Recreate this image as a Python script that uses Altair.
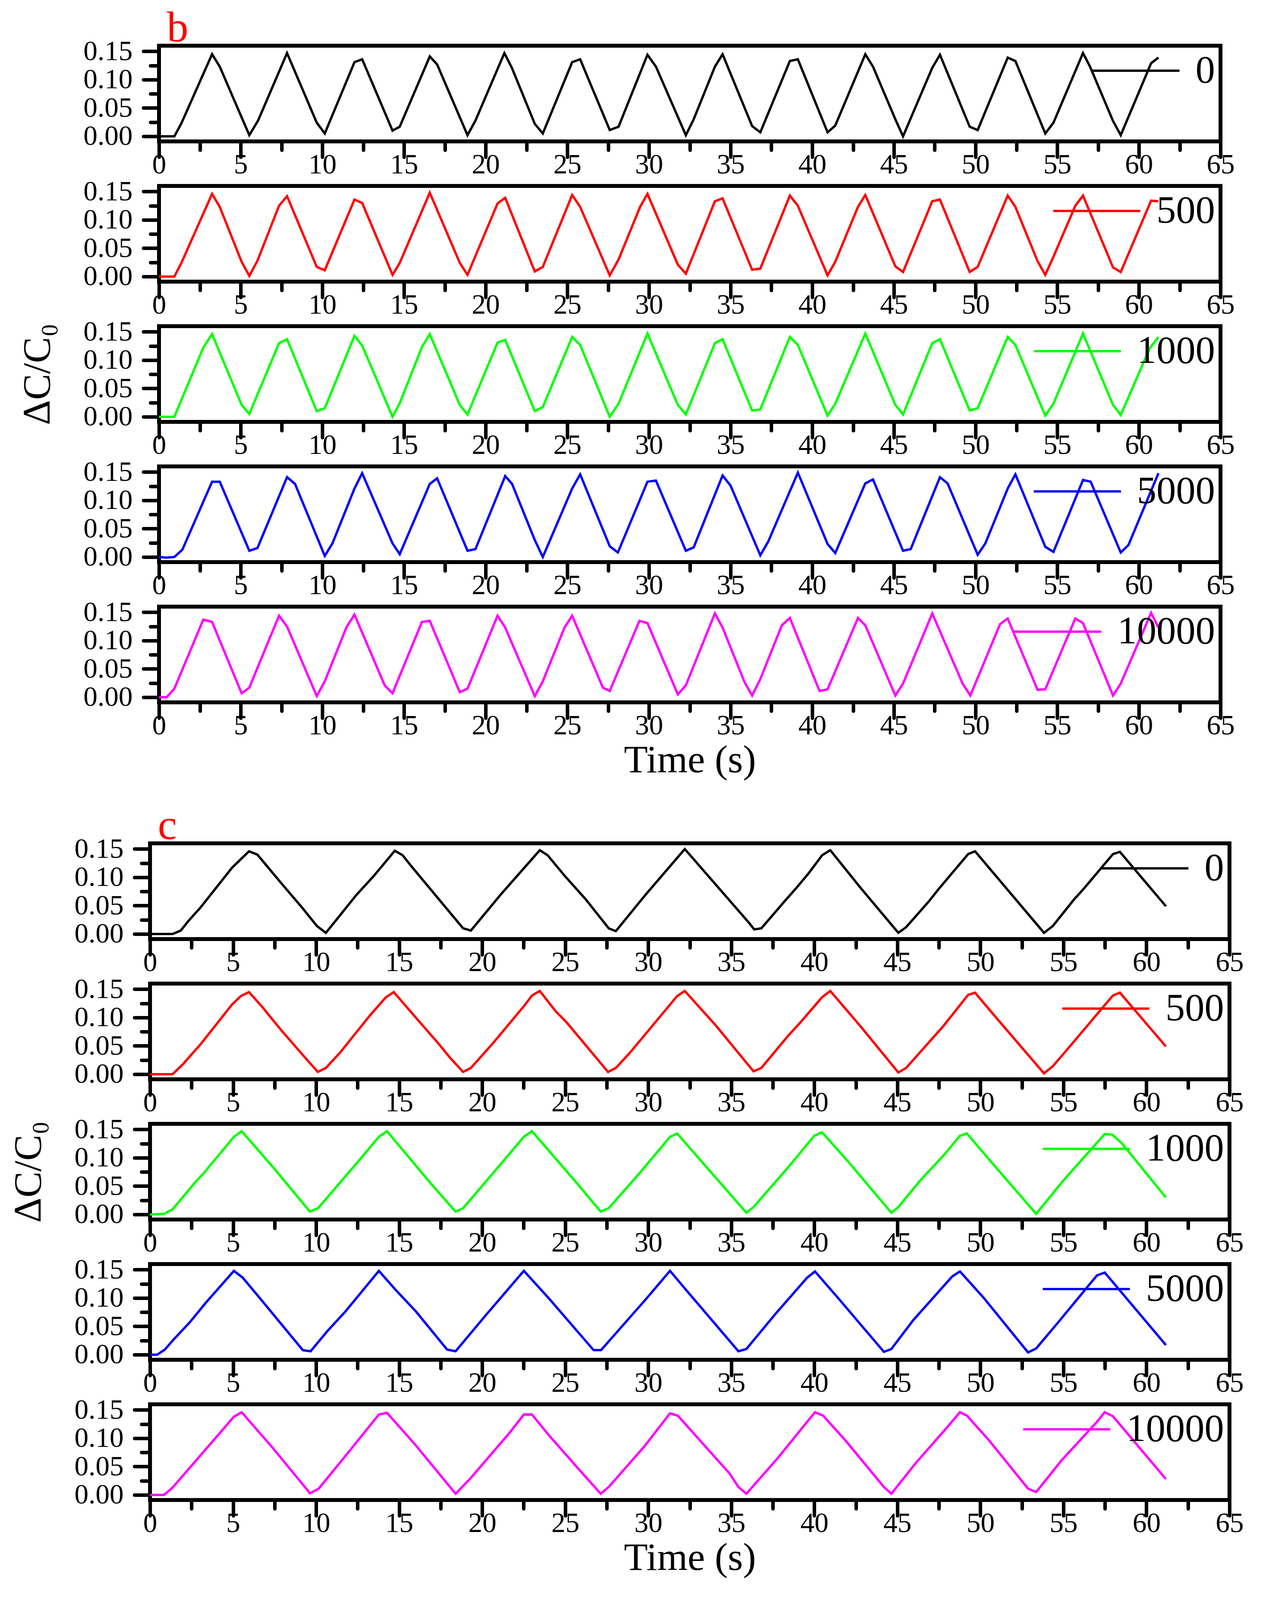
import altair as alt
import pandas as pd

FONT = "Liberation Serif"

LABELS = ["0", "500", "1000", "5000", "10000"]
COLORS = ["#000000", "#ff0000", "#00ff00", "#0000ff", "#ff00ff"]

# ---------------- panel b ----------------
B0_T = [0, 0.94, 1.37, 3.25, 3.72, 5.53, 6.07, 7.84, 9.66, 10.15, 11.97, 12.44, 14.3, 14.74, 16.58, 17.03,
        18.89, 19.38, 21.15, 21.62, 23.01, 23.5, 25.3, 25.79, 27.6, 28.14, 29.91, 30.43, 32.26, 32.74, 34.04,
        34.51, 36.32, 36.82, 38.63, 39.12, 40.94, 41.41, 43.25, 43.72, 45.09, 45.56, 47.35, 47.82, 49.64,
        50.13, 51.97, 52.44, 54.27, 54.77, 56.58, 57.01, 58.42, 58.89, 60.75, 61.2]
B0_V = [0, 0, 0.023, 0.145, 0.123, 0.002, 0.028, 0.147, 0.024, 0.005, 0.131, 0.136, 0.010, 0.017, 0.141, 0.127,
        0.002, 0.028, 0.147, 0.120, 0.022, 0.005, 0.131, 0.136, 0.011, 0.017, 0.144, 0.123, 0.002, 0.030, 0.123,
        0.145, 0.018, 0.007, 0.133, 0.136, 0.007, 0.019, 0.145, 0.123, 0.030, 0.0, 0.121, 0.144, 0.017,
        0.011, 0.139, 0.133, 0.005, 0.024, 0.147, 0.123, 0.027, 0.002, 0.129, 0.139]

B1_T = [0, 0.94, 1.37, 3.25, 3.72, 5.06, 5.53, 6.03, 7.35, 7.84, 9.66, 10.15, 11.97, 12.44, 14.3, 14.74, 16.58,
        18.42, 18.89, 20.73, 21.2, 23.01, 23.5, 25.3, 25.79, 27.6, 28.14, 29.46, 29.91, 31.77, 32.26, 34.04,
        34.51, 36.32, 36.82, 38.63, 39.12, 40.94, 41.41, 42.8, 43.25, 45.09, 45.56, 47.35, 47.82, 49.64, 50.13,
        51.97, 52.44, 53.8, 54.27, 54.77, 56.11, 56.58, 58.42, 58.89, 60.75, 61.2]
B1_V = [0, 0, 0.024, 0.146, 0.123, 0.026, 0.001, 0.028, 0.125, 0.142, 0.017, 0.011, 0.136, 0.130, 0.003, 0.024,
        0.148, 0.024, 0.003, 0.129, 0.139, 0.009, 0.017, 0.144, 0.123, 0.002, 0.030, 0.123, 0.146, 0.021, 0.005,
        0.133, 0.138, 0.012, 0.014, 0.143, 0.125, 0.002, 0.026, 0.123, 0.144, 0.018, 0.008, 0.133, 0.136, 0.008,
        0.017, 0.143, 0.123, 0.027, 0.003, 0.035, 0.125, 0.143, 0.016, 0.008, 0.134, 0.133]

B2_T = [0, 0.94, 2.71, 3.25, 5.06, 5.53, 7.35, 7.84, 9.66, 10.15, 11.97, 12.44, 14.3, 14.74, 16.1, 16.58, 18.42,
        18.89, 20.73, 21.2, 23.01, 23.5, 25.3, 25.79, 27.6, 28.14, 29.91, 31.77, 32.26, 34.04, 34.51, 36.32,
        36.82, 38.63, 39.12, 40.94, 41.41, 43.25, 45.09, 45.56, 47.35, 47.82, 49.64, 50.13, 51.97, 52.44, 54.27,
        54.77, 56.58, 58.42, 58.89, 60.65, 61.2]
B2_V = [0, 0, 0.122, 0.146, 0.021, 0.005, 0.130, 0.137, 0.010, 0.015, 0.143, 0.126, 0.0, 0.024, 0.123, 0.146,
        0.021, 0.004, 0.131, 0.136, 0.010, 0.017, 0.141, 0.127, 0.0, 0.023, 0.147, 0.021, 0.004, 0.130, 0.137,
        0.011, 0.013, 0.141, 0.127, 0.002, 0.023, 0.147, 0.021, 0.004, 0.130, 0.137, 0.011, 0.015, 0.141, 0.127,
        0.002, 0.023, 0.147, 0.021, 0.003, 0.120, 0.141]

B3_T = [0, 0.47, 0.94, 1.43, 3.25, 3.72, 5.53, 6.03, 7.84, 8.33, 10.15, 10.62, 11.97, 12.44, 14.3, 14.74, 16.58,
        17.03, 18.89, 19.38, 21.2, 21.62, 23.01, 23.5, 25.3, 25.79, 27.6, 28.1, 29.91, 30.43, 32.26, 32.74,
        34.51, 35.0, 36.82, 37.3, 39.12, 40.94, 41.41, 43.25, 43.72, 45.56, 46.03, 47.82, 48.29, 50.13, 50.6,
        51.97, 52.44, 54.27, 54.77, 56.58, 57.05, 58.89, 59.36, 61.2]
B3_V = [0, -0.001, 0, 0.013, 0.133, 0.133, 0.011, 0.016, 0.141, 0.129, 0.002, 0.024, 0.121, 0.148, 0.024, 0.005,
        0.129, 0.139, 0.011, 0.014, 0.143, 0.129, 0.030, 0.0, 0.121, 0.146, 0.019, 0.008, 0.133, 0.135, 0.011,
        0.017, 0.144, 0.126, 0.003, 0.027, 0.149, 0.023, 0.007, 0.130, 0.137, 0.011, 0.014, 0.141, 0.130, 0.004,
        0.024, 0.121, 0.146, 0.018, 0.009, 0.136, 0.133, 0.008, 0.021, 0.148]

B4_T = [0, 0.47, 0.94, 2.71, 3.25, 5.06, 5.53, 7.35, 7.84, 9.66, 10.15, 11.47, 11.97, 13.82, 14.3, 16.1, 16.58,
        18.42, 18.89, 20.73, 21.2, 23.01, 23.5, 24.83, 25.3, 27.18, 27.6, 29.42, 29.91, 31.77, 32.26, 34.04,
        34.51, 35.85, 36.32, 36.82, 38.14, 38.63, 40.45, 40.94, 42.8, 43.25, 45.09, 45.56, 47.35, 49.21, 49.68,
        51.5, 51.97, 53.8, 54.27, 56.11, 56.58, 58.42, 58.89, 60.75, 61.2]
B4_V = [0, 0, 0.015, 0.137, 0.133, 0.007, 0.017, 0.144, 0.125, 0.002, 0.028, 0.123, 0.146, 0.021, 0.007, 0.133,
        0.135, 0.009, 0.015, 0.144, 0.123, 0.002, 0.028, 0.123, 0.144, 0.017, 0.011, 0.135, 0.131, 0.005, 0.021,
        0.148, 0.123, 0.027, 0.003, 0.032, 0.127, 0.140, 0.011, 0.014, 0.140, 0.127, 0.003, 0.024, 0.148, 0.024,
        0.003, 0.129, 0.139, 0.013, 0.014, 0.139, 0.131, 0.003, 0.024, 0.149, 0.123]

# ---------------- panel c ----------------
C0_T = [0, 0.79, 1.36, 1.85, 2.34, 3.02, 4.94, 5.96, 6.47, 7.92, 9.2, 10.05, 10.59, 12.4, 13.46, 14.74, 15.21,
        15.7, 17.4, 18.85, 19.32, 21.13, 23.47, 23.94, 24.96, 26.24, 27.62, 28.05, 29.86, 32.2, 36.06, 36.38,
        36.81, 38.19, 38.94, 39.68, 40.47, 40.96, 42.77, 45.06, 45.53, 46.91, 47.45, 49.26, 49.68, 52.13, 53.83,
        54.36, 55.64, 56.17, 57.98, 58.4, 61.17]
C0_V = [0, 0, 0, 0.006, 0.024, 0.046, 0.117, 0.146, 0.140, 0.089, 0.045, 0.014, 0.002, 0.068, 0.102, 0.147,
        0.139, 0.121, 0.061, 0.010, 0.006, 0.070, 0.148, 0.139, 0.103, 0.061, 0.010, 0.005, 0.070, 0.150, 0.020,
        0.008, 0.010, 0.057, 0.082, 0.108, 0.139, 0.148, 0.082, 0.002, 0.012, 0.058, 0.078, 0.141, 0.146, 0.061,
        0.002, 0.014, 0.061, 0.078, 0.141, 0.145, 0.049]

C1_T = [0, 1.36, 1.96, 3.02, 4.94, 5.47, 5.96, 6.75, 7.92, 9.2, 10.1, 10.59, 11.44, 13.25, 14.21, 14.68, 15.59,
        17.4, 18.04, 18.85, 19.32, 20.66, 22.51, 23.0, 23.47, 24.43, 25.07, 26.24, 27.58, 28.05, 28.9, 31.74,
        32.2, 34.04, 36.34, 36.81, 38.4, 39.15, 40.47, 40.96, 42.77, 45.06, 45.53, 47.77, 49.26, 49.68, 51.06,
        53.83, 54.36, 55.21, 57.98, 58.4, 61.17]
C1_V = [0, 0, 0.017, 0.052, 0.123, 0.138, 0.145, 0.119, 0.077, 0.034, 0.004, 0.011, 0.038, 0.104, 0.136, 0.145,
        0.114, 0.053, 0.030, 0.004, 0.011, 0.055, 0.120, 0.139, 0.147, 0.111, 0.092, 0.051, 0.004, 0.011, 0.038,
        0.138, 0.147, 0.087, 0.005, 0.011, 0.067, 0.091, 0.136, 0.147, 0.085, 0.003, 0.011, 0.085, 0.140, 0.144,
        0.096, 0.0015, 0.014, 0.043, 0.139, 0.144, 0.049]

C2_T = [0, 0.85, 1.36, 2.7, 3.24, 5.05, 5.52, 7.39, 9.63, 10.12, 11.76, 12.72, 13.78, 14.27, 16.87, 18.4, 18.85,
        20.6, 22.51, 23.0, 25.71, 27.14, 27.62, 29.54, 31.31, 31.74, 35.91, 36.34, 38.51, 40.0, 40.47, 42.02,
        44.64, 45.06, 46.38, 47.87, 48.77, 49.19, 50.85, 53.36, 55.0, 57.49, 57.94, 58.51, 61.17]
C2_V = [0, 0.001, 0.009, 0.056, 0.073, 0.137, 0.147, 0.084, 0.005, 0.011, 0.067, 0.100, 0.137, 0.147, 0.056,
        0.005, 0.011, 0.071, 0.137, 0.147, 0.055, 0.005, 0.011, 0.075, 0.137, 0.143, 0.003, 0.013, 0.086, 0.139,
        0.145, 0.094, 0.003, 0.013, 0.060, 0.107, 0.139, 0.143, 0.086, 0.001, 0.060, 0.142, 0.141, 0.126, 0.030]

C3_T = [0, 0.43, 0.89, 1.43, 2.39, 3.34, 5.05, 5.58, 6.75, 9.2, 9.67, 10.69, 11.76, 13.78, 14.74, 16.02, 17.89,
        18.4, 20.17, 22.51, 24.0, 26.71, 27.16, 29.86, 31.31, 32.2, 35.43, 35.91, 37.66, 39.57, 40.04, 41.49,
        44.19, 44.64, 45.96, 48.3, 48.77, 50.21, 52.87, 53.36, 54.68, 57.02, 57.49, 61.17]
C3_V = [0, 0, 0.009, 0.027, 0.057, 0.091, 0.148, 0.136, 0.095, 0.008, 0.006, 0.042, 0.076, 0.148, 0.116, 0.076,
        0.009, 0.006, 0.068, 0.148, 0.100, 0.008, 0.008, 0.098, 0.148, 0.117, 0.006, 0.010, 0.072, 0.136, 0.147,
        0.098, 0.005, 0.010, 0.061, 0.138, 0.147, 0.100, 0.004, 0.011, 0.057, 0.140, 0.145, 0.017]

C4_T = [0, 0.85, 1.36, 2.81, 5.05, 5.52, 7.39, 9.63, 10.16, 12.08, 13.78, 14.27, 16.02, 18.4, 19.32, 21.66, 22.51,
        23.0, 24.0, 25.71, 27.14, 27.62, 29.75, 31.31, 31.78, 34.89, 35.43, 35.91, 37.77, 39.57, 40.04, 40.53,
        41.91, 44.19, 44.64, 46.13, 47.87, 48.77, 49.19, 50.53, 52.87, 53.36, 54.89, 57.02, 57.49, 57.98, 61.17]
C4_V = [0, 0, 0.013, 0.062, 0.138, 0.146, 0.083, 0.003, 0.011, 0.080, 0.142, 0.145, 0.087, 0.002, 0.030, 0.110,
        0.142, 0.142, 0.106, 0.049, 0.002, 0.014, 0.085, 0.144, 0.140, 0.038, 0.014, 0.002, 0.064, 0.129, 0.146,
        0.140, 0.095, 0.014, 0.002, 0.057, 0.115, 0.146, 0.140, 0.096, 0.011, 0.005, 0.061, 0.129, 0.146, 0.139,
        0.028]

X_TICKS = [i * 2.5 for i in range(27)]
Y_TICKS = [0, 0.025, 0.05, 0.075, 0.1, 0.125, 0.15]

B_SERIES = [(B0_T, B0_V), (B1_T, B1_V), (B2_T, B2_V), (B3_T, B3_V), (B4_T, B4_V)]
C_SERIES = [(C0_T, C0_V), (C1_T, C1_V), (C2_T, C2_V), (C3_T, C3_V), (C4_T, C4_V)]

MAJOR_TICK = 40
MINOR_TICK = 22
PANEL_H = 245
PANEL_GAP = 114


def panel(t, v, i, w, h, letter=None):
    df = pd.DataFrame({"t": t, "v": v, "s": LABELS[i]})
    xaxis = alt.Axis(
        values=X_TICKS,
        labelExpr="datum.value % 5 === 0 ? datum.label : ''",
        tickSize={"condition": {"test": "datum.value % 5 === 0", "value": MAJOR_TICK}, "value": MINOR_TICK},
        labelPadding=-16,
        title="Time (s)" if i == 4 else None,
        titleFontSize=100,
        titlePadding=4,
    )
    yaxis = alt.Axis(
        values=Y_TICKS,
        labelExpr="abs(datum.value * 20 - round(datum.value * 20)) < 0.001 ? format(datum.value, '.2f') : ''",
        tickSize={"condition": {"test": "abs(datum.value * 20 - round(datum.value * 20)) < 0.001",
                                "value": MAJOR_TICK}, "value": MINOR_TICK},
        labelPadding=28,
        title="ΔC/C₀" if i == 2 else None,
        titleFontSize=100,
        titlePadding=66,
    )
    leg = alt.Legend(title=None, orient="top-right", offset=14, symbolType="M-1,0L1,0")
    ch = alt.Chart(df).mark_line(strokeWidth=6).encode(
        x=alt.X("t:Q", scale=alt.Scale(domain=[0, 65], nice=False, zero=False), axis=xaxis),
        y=alt.Y("v:Q", scale=alt.Scale(domain=[-0.009, 0.160], nice=False, zero=False), axis=yaxis),
        color=alt.Color("s:N", scale=alt.Scale(domain=[LABELS[i]], range=[COLORS[i]]), legend=leg),
    )
    props = dict(width=w, height=h)
    if letter is not None:
        props["title"] = alt.TitleParams(letter, anchor="start", frame="group", color="#ff0000", font=FONT,
                                         fontSize=110, fontWeight="normal", offset=-121, dx=20,
                                         baseline="alphabetic")
    return ch.properties(**props)


b_block = alt.vconcat(
    *[panel(t, v, i, 2717, PANEL_H, "b" if i == 0 else None) for i, (t, v) in enumerate(B_SERIES)],
    spacing=PANEL_GAP, bounds="flush",
).resolve_scale(color="independent")

c_block = alt.vconcat(
    *[panel(t, v, i, 2763, PANEL_H, "c" if i == 0 else None) for i, (t, v) in enumerate(C_SERIES)],
    spacing=PANEL_GAP, bounds="flush",
).resolve_scale(color="independent")

chart = alt.vconcat(b_block, c_block, spacing=54, center=True).resolve_scale(
    color="independent"
).configure(
    font=FONT,
    padding={"left": 10, "top": 5, "right": 5, "bottom": 5},
).configure_view(
    stroke="#000000", strokeWidth=10
).configure_axis(
    labelFont=FONT, labelFontSize=72, labelColor="#000000",
    titleFont=FONT, titleFontWeight="normal", titleColor="#000000",
    tickColor="#000000", tickWidth=9, tickCap="round",
    domain=False, grid=False,
    labelOverlap=False, labelFlush=False, labelBound=False,
).configure_legend(
    labelFont=FONT, labelFontSize=100, labelColor="#000000", labelLimit=2000,
    symbolSize=223 * 223, symbolStrokeWidth=6, labelOffset=38,
    padding=0, clipHeight=100, rowPadding=0,
)

chart.save("out.html", embed_options={"renderer": "svg", "actions": False})
